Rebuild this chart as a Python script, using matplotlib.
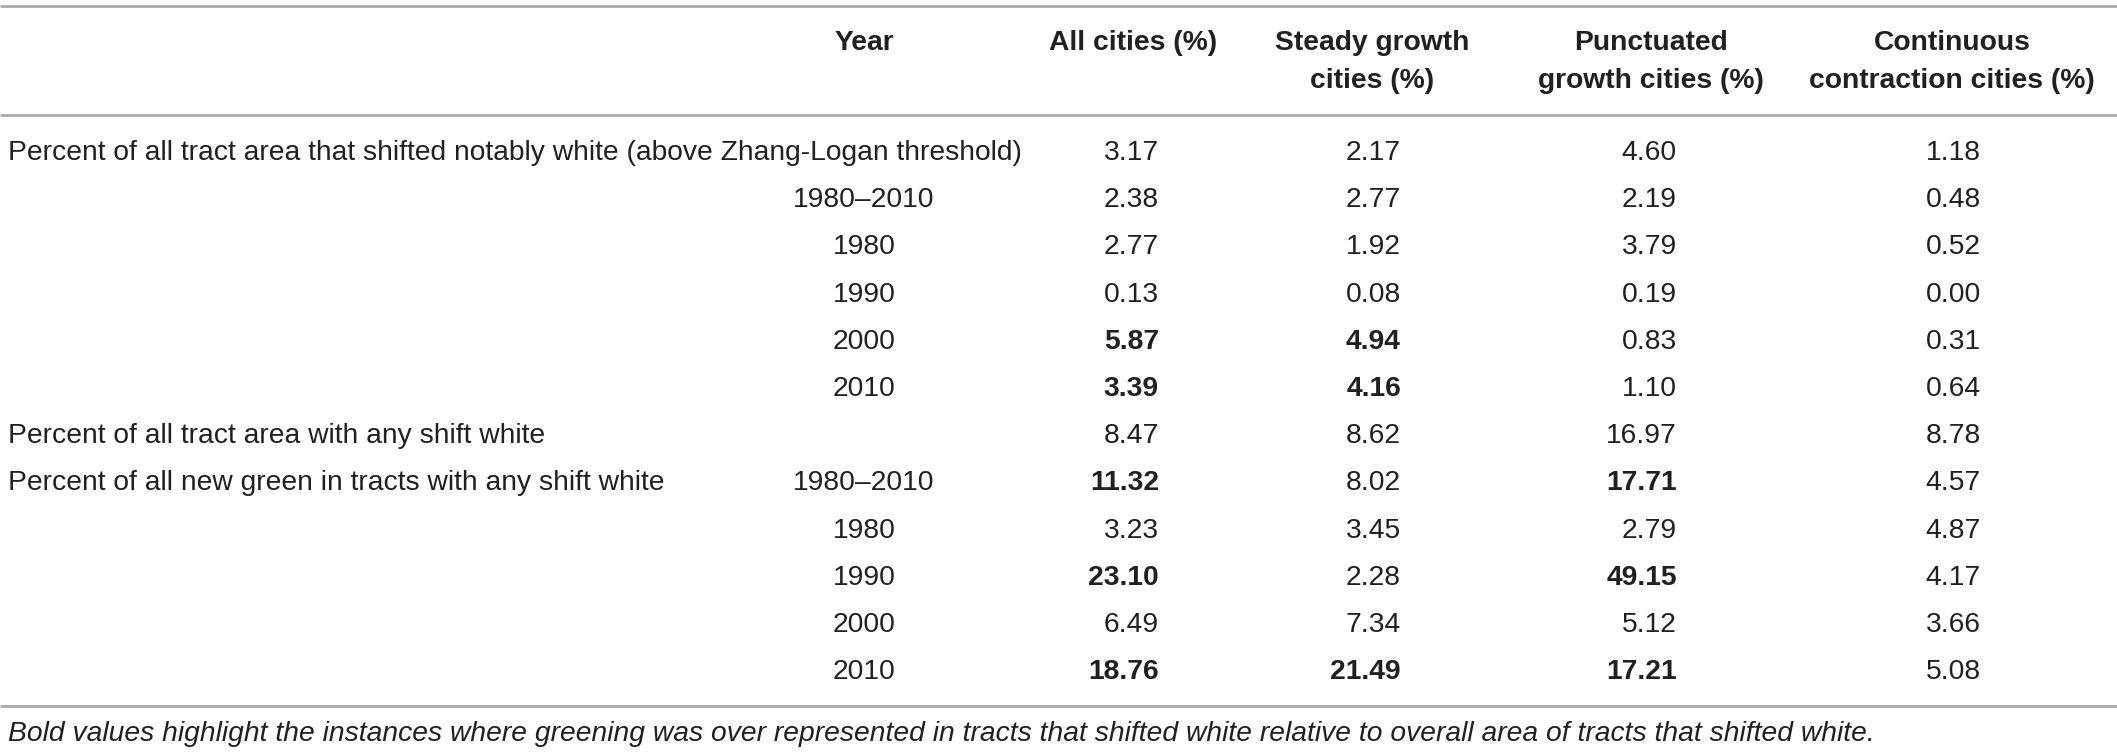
import matplotlib
matplotlib.use("Agg")
import matplotlib.pyplot as plt
from matplotlib import font_manager

# pick a narrow sans if we have one
names = {f.name for f in font_manager.fontManager.ttflist}
FONT = "Liberation Sans Narrow" if "Liberation Sans Narrow" in names else "Liberation Sans"

headers = [["Year"], ["All cities (%)"], ["Steady growth", "cities (%)"],
           ["Punctuated", "growth cities (%)"], ["Continuous", "contraction cities (%)"]]

row_labels = [
    "Percent of all tract area that shifted notably white (above Zhang-Logan threshold)",
    "", "", "", "", "",
    "Percent of all tract area with any shift white",
    "Percent of all new green in tracts with any shift white",
    "", "", "", "",
]
years = ["", "1980\u20132010", "1980", "1990", "2000", "2010",
         "", "1980\u20132010", "1980", "1990", "2000", "2010"]

all_cities = ["3.17", "2.38", "2.77", "0.13", "5.87", "3.39",
              "8.47", "11.32", "3.23", "23.10", "6.49", "18.76"]
steady = ["2.17", "2.77", "1.92", "0.08", "4.94", "4.16",
          "8.62", "8.02", "3.45", "2.28", "7.34", "21.49"]
punctuated = ["4.60", "2.19", "3.79", "0.19", "0.83", "1.10",
              "16.97", "17.71", "2.79", "49.15", "5.12", "17.21"]
contraction = ["1.18", "0.48", "0.52", "0.00", "0.31", "0.64",
               "8.78", "4.57", "4.87", "4.17", "3.66", "5.08"]

bold_all = [0, 0, 0, 0, 1, 1, 0, 1, 0, 1, 0, 1]
bold_steady = [0, 0, 0, 0, 1, 1, 0, 0, 0, 0, 0, 1]
bold_punct = [0, 0, 0, 0, 0, 0, 0, 1, 0, 1, 0, 1]
bold_contr = [0] * 12

footnote = ("Bold values highlight the instances where greening was over represented "
            "in tracts that shifted white relative to overall area of tracts that shifted white.")

W, H = 2117, 756
fig = plt.figure(figsize=(W / 100, H / 100), dpi=100)
ax = fig.add_axes([0, 0, 1, 1])
ax.set_xlim(0, W)
ax.set_ylim(H, 0)
ax.axis("off")

txt = "#231f20"
rule = "#a7a9ac"
fs = 20.3

# rules
for y in (6, 115, 706):
    ax.plot([0, W], [y, y], color=rule, lw=2, solid_capstyle="butt")

# header, one text per line
head_x = [864, 1133, 1372, 1651, 1952]
for hx, lines in zip(head_x, headers):
    for k, line in enumerate(lines):
        ax.text(hx, 43 + 38 * k, line, ha="center", va="center",
                fontsize=fs, fontweight="bold", family=FONT, color=txt)

val_x = [1159, 1401, 1677, 1981]
cols = [all_cities, steady, punctuated, contraction]
bolds = [bold_all, bold_steady, bold_punct, bold_contr]

for i in range(len(years)):
    y = 153 + 47.2 * i
    if row_labels[i]:
        ax.text(8, y, row_labels[i], ha="left", va="center",
                fontsize=fs, family=FONT, color=txt)
    if years[i]:
        ax.text(head_x[0], y, years[i], ha="center", va="center",
                fontsize=fs, family=FONT, color=txt)
    for x, col, b in zip(val_x, cols, bolds):
        ax.text(x, y, col[i], ha="right", va="center", fontsize=fs,
                family=FONT, color=txt,
                fontweight="bold" if b[i] else "normal")

ax.text(8, 734, footnote, ha="left", va="center", fontsize=fs,
        family=FONT, style="italic", color=txt)

fig.savefig("out.png", dpi=100)
